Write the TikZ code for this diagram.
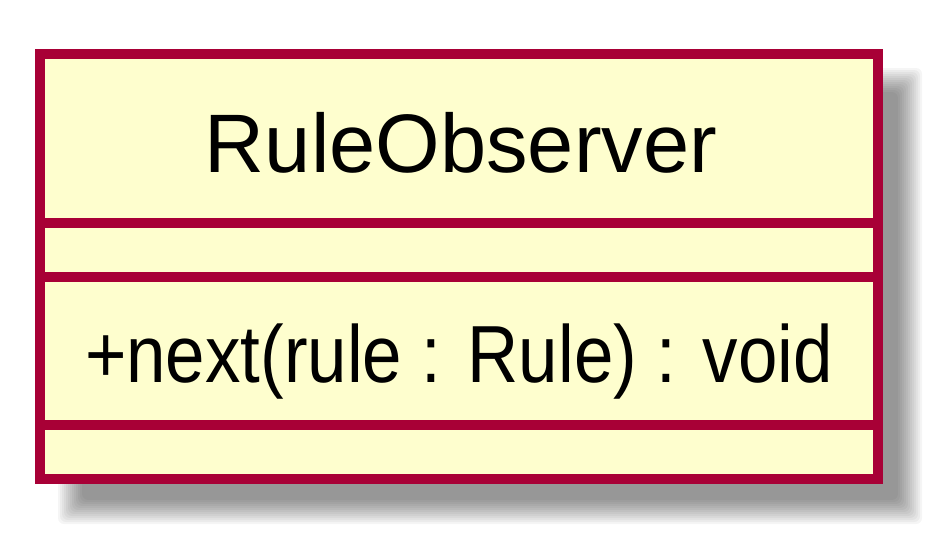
\documentclass[tikz,border=0pt]{standalone}
\usepackage{fontspec}
\setmainfont{Liberation Sans}
\definecolor{umlborder}{HTML}{A80036}
\definecolor{umlfill}{HTML}{FEFECE}
\begin{document}
\begin{tikzpicture}[x=1pt,y=-1pt,
  classbox/.style={draw=umlborder,fill=umlfill,line width=10pt,rectangle,inner sep=0pt,minimum width=838pt,minimum height=425.3pt},
  sepline/.style={draw=umlborder,line width=10pt},
  titletext/.style={font=\fontsize{83}{90}\selectfont,anchor=base,inner sep=0pt},
  membertext/.style={font=\fontsize{81}{90}\selectfont,anchor=base,inner sep=0pt}]
\useasboundingbox (0,0) rectangle (945,546);
% blurred shadow
\foreach \d in {-12,-10,...,12}{
  \fill[black,opacity=0.038,rounded corners=6pt] (70-\d,80-\d) rectangle (910+\d,512+\d);
}
\node[classbox] (box) at (459,266.65) {};
\coordinate (s1) at (40,223.3);
\coordinate (s2) at (40,277.3);
\coordinate (s3) at (40,425);
\draw[sepline] (s1) -- (s1 -| box.east);
\draw[sepline] (s2) -- (s2 -| box.east);
\draw[sepline] (s3) -- (s3 -| box.east);
\node[titletext] (title) at (461,172) {RuleObserver};
\node[membertext] (method) at (459,382) {\scalebox{0.875}[1]{+next(rule : Rule) : void}};
\end{tikzpicture}
\end{document}
